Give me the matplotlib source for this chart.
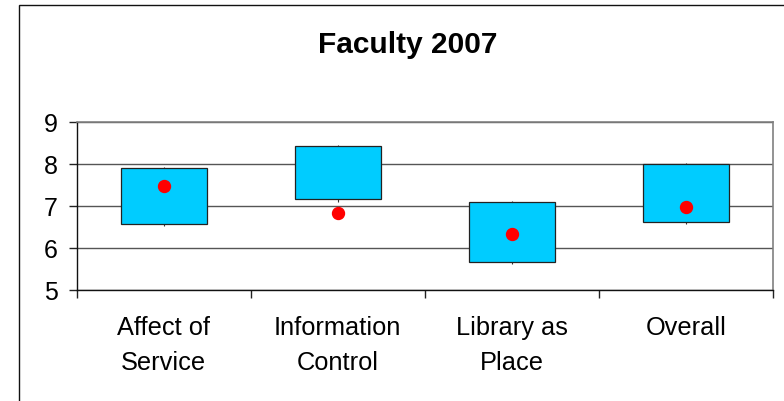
import matplotlib
matplotlib.use("Agg")
from matplotlib import pyplot as plt
from matplotlib.patches import Rectangle

# Dimension names and LibQUAL-style scores (minimum, desired, perceived)
categories = ["Affect of\nService", "Information\nControl", "Library as\nPlace", "Overall"]
minimum = [6.58, 7.16, 5.67, 6.62]
desired = [7.91, 8.43, 7.10, 8.00]
perceived = [7.46, 6.84, 6.32, 6.98]
low_line = [6.53, 7.10, 5.62, 6.57]
high_line = [7.93, 8.45, 7.11, 8.01]

plt.rcParams["font.family"] = ["Liberation Sans", "DejaVu Sans"]

fig = plt.figure(figsize=(7.84, 4.02), dpi=100)
ax = fig.add_axes([76.7 / 784, 1 - 291 / 402, 696 / 784, 168.3 / 402])

x = list(range(len(categories)))

# thin high-low lines behind the boxes
ax.vlines(x, low_line, high_line, color="#333333", linewidth=0.8, zorder=2)

# boxes from minimum to desired
heights = [d - m for d, m in zip(desired, minimum)]
ax.bar(x, heights, bottom=minimum, width=0.494, color="#00CCFF",
       edgecolor="#222222", linewidth=0.9, zorder=3)

# perceived score
ax.plot(x, perceived, "o", color="#FF0000", markersize=8.6, zorder=4)

ax.set_xlim(-0.5, 3.5)
ax.set_ylim(5, 9)
ax.set_yticks([5, 6, 7, 8, 9])
ax.yaxis.grid(True, color="#555555", linewidth=1.0, zorder=0)
ax.set_axisbelow(True)

# tick marks at category boundaries, labels at centres
ax.set_xticks([-0.5, 0.5, 1.5, 2.5, 3.5])
ax.set_xticklabels([""] * 5)
ax.set_xticks(x, minor=True)
ax.set_xticklabels(categories, minor=True, fontsize=18.3, linespacing=1.6)
ax.tick_params(axis="x", which="major", direction="out", length=5.8, width=1.0, color="#222222")
ax.tick_params(axis="x", which="minor", length=0, pad=18)
ax.tick_params(axis="y", direction="out", length=5.8, width=1.0, color="#222222",
               labelsize=18, pad=8)

for side in ["left", "bottom"]:
    ax.spines[side].set_color("#111111")
    ax.spines[side].set_linewidth(1.0)
for side in ["top", "right"]:
    ax.spines[side].set_color("#808080")
    ax.spines[side].set_linewidth(1.2)

fig.text(408 / 784, 1 - 45 / 402, "Faculty 2007", ha="center", va="center",
         fontsize=21.5, fontweight="bold")

# outer chart border (runs past the right and bottom edges)
fig.add_artist(Rectangle((19 / 784, -0.2), 1.2, 1.2 - 6 / 402,
                         transform=fig.transFigure, fill=False,
                         edgecolor="#111111", linewidth=1.0, clip_on=False))

fig.savefig("out.png", dpi=100)
